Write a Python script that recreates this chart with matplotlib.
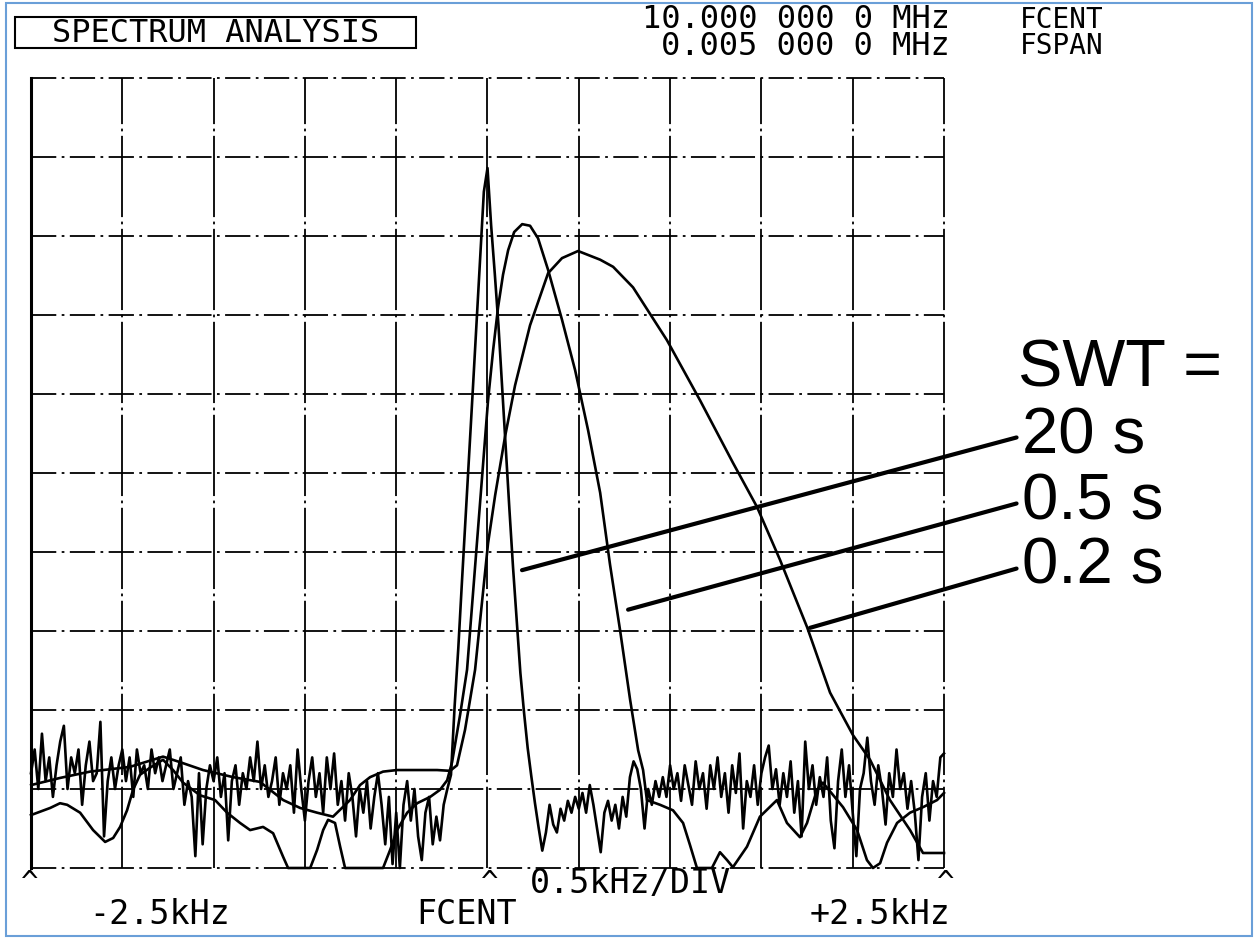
import numpy as np
import matplotlib
matplotlib.use("Agg")
import matplotlib.pyplot as plt
from matplotlib.patches import Rectangle

# ---------------- data (x in kHz offset from FCENT, y in dB rel. top line) ----------------
x_grid_kHz = np.arange(-2.5, 2.51, 0.5)
y_grid_dB = np.arange(-100, 1, 10)

# SWT = 20 s trace (narrow peak + noisy floor), sampled every 0.02 kHz
swt20_x = np.linspace(-2.5, 2.5, 251)
swt20_db = [
    -88, -85, -90, -83, -89, -86, -91, -87, -84, -82, -90, -86, -88, -85, -92, -87, -84, -89, -88, -81.5,
    -96, -89, -86, -90, -87, -85,
    -89, -86, -91, -85, -88, -87, -90, -85, -88, -86, -89, -87, -85, -90, -88, -86, -92, -89, -91, -98.5,
    -88, -97, -90, -87, -89, -86, -91, -88, -96.5, -89, -87, -92, -88, -90, -86, -89, -84,
    -90, -87, -91, -89, -86, -92, -88, -90, -87, -93, -85, -90, -94, -89, -86, -91, -88, -93, -86, -90,
    -85.5, -92, -89, -94, -88, -91, -96, -90, -93, -89, -95, -91, -88, -92, -97, -91, -99.5, -93, -100, -92,
    -89, -94, -90, -96, -99, -93, -91, -97, -93.5, -96.5, -92, -90,
    -88.2, -79.5, -72.2, -63.8, -55.7, -47.5, -39.3, -30.9, -22.7, -14.4, -11.4, -18.7, -24.8, -31.3,
    -39.1, -46.7, -54.6, -62.0, -68.7, -75.3, -80.3, -84.8, -88.4, -91.8, -94.9, -97.8,
    -95.5, -92, -94.5, -95.5, -92.5, -94, -91.5, -93, -91, -92.5,
    -90.5, -93, -89.5, -92, -95, -98, -93, -91.5, -94, -92,
    -95, -91, -93.5, -88.5, -86.5, -87.5, -90, -95, -90, -92,
    -89, -91, -88.5, -91, -87, -90, -88, -91.5, -87, -89.5,
    -92, -86.5, -90, -88, -92.5, -87, -90, -86, -91, -88,
    -93, -87, -90.5, -85.5, -95, -89, -91, -87, -92, -88,
    -86, -84.5, -90, -87.5, -92, -88, -91, -86.5, -93, -89,
    -96, -84, -90, -87, -92, -88.5, -91, -86, -94, -97.5,
    -89, -85, -91, -87, -93, -98.5, -90, -88, -83.5, -89,
    -92, -87, -90, -94.5, -88, -91, -85, -90, -88, -92.5,
    -89, -93, -99, -91, -88, -94, -89, -91, -86, -85.5,
]

# SWT = 0.5 s trace
swt05_x = [-2.50, -2.395, -2.341, -2.302, -2.231, -2.160, -2.094, -2.050, -2.012, -1.974, -1.941, -1.903,
           -1.848, -1.777, -1.722, -1.667, -1.574, -1.492, -1.426, -1.355, -1.300, -1.229, -1.174, -1.119,
           -1.092, -0.971, -0.933, -0.900, -0.873, -0.835, -0.807, -0.780, -0.572, -0.533, -0.495, -0.440,
           -0.385, -0.314, -0.260, -0.221, -0.194, -0.150, -0.112, -0.057, 0.003, 0.031, 0.058, 0.085,
           0.113, 0.146, 0.190, 0.233, 0.277, 0.332, 0.408, 0.480, 0.551, 0.617, 0.671, 0.726, 0.781,
           0.825, 0.852, 0.873, 0.945, 1.016, 1.071, 1.109, 1.147, 1.229, 1.273, 1.312, 1.344, 1.421,
           1.492, 1.585, 1.640, 1.711, 1.750, 1.804, 1.837, 1.947, 2.024, 2.078, 2.111, 2.150, 2.188,
           2.243, 2.314, 2.385, 2.462, 2.500]
swt05_db = [-93.3, -92.4, -91.8, -92.0, -93.0, -95.2, -96.7, -96.2, -94.8, -92.7, -90.1, -88.2,
            -87.3, -86.3, -87.6, -89.2, -90.8, -91.4, -93.0, -94.3, -95.2, -94.8, -95.6, -98.6,
            -100, -100, -97.7, -95.2, -93.9, -94.3, -97.3, -100, -100, -97.7, -95.2, -93.0,
            -91.8, -91.0, -90.1, -88.9, -86.6, -80.6, -74.9, -58.6, -40.8, -34.4, -29.0, -24.9,
            -21.8, -19.5, -18.5, -18.7, -20.3, -24.3, -30.6, -37.0, -44.6, -52.5, -61.6, -69.9, -78.7,
            -85.1, -87.6, -91.4, -92.0, -92.7, -94.3, -97.1, -100, -100, -98.0, -99.0, -99.9, -97.3,
            -93.5, -91.4, -94.3, -96.1, -94.3, -90.1, -89.2, -92.3, -95.2, -99.0, -100, -99.4, -96.8,
            -94.3, -93.0, -92.3, -91.4, -90.5]

# SWT = 0.2 s trace
swt02_x = [-2.499, -2.341, -2.177, -1.958, -1.777, -1.684, -1.558, -1.393, -1.246, -1.119, -1.026, -0.933,
           -0.846, -0.753, -0.698, -0.643, -0.572, -0.495, -0.276, -0.205, -0.167, -0.123, -0.068, 0.003,
           0.042, 0.096, 0.151, 0.233, 0.332, 0.408, 0.496, 0.617, 0.688, 0.797, 0.983, 1.164, 1.344,
           1.476, 1.602, 1.750, 1.876, 2.002, 2.095, 2.204, 2.314, 2.385, 2.500]
swt02_db = [-89.5, -88.6, -87.8, -87.2, -85.9, -86.6, -87.6, -88.5, -89.1, -91.4, -92.4, -93.0,
            -93.5, -91.4, -89.5, -88.5, -87.8, -87.6, -87.6, -87.7, -87.0, -82.5, -74.9, -58.9,
            -52.8, -45.4, -38.9, -31.3, -24.7, -22.8, -21.9, -23.0, -23.9, -26.5, -33.2, -40.8, -48.7,
            -54.3, -61.0, -69.5, -77.8, -83.2, -86.3, -91.4, -95.2, -98.1, -98.1]

# labels
swt_labels = ["20 s", "0.5 s", "0.2 s"]
swt_pointer_kHz = [0.189, 0.770, 1.766]
swt_pointer_dB = [-62.3, -67.3, -69.6]

# ---------------- figure ----------------
W, H = 1257, 939
fig = plt.figure(figsize=(W / 100, H / 100), dpi=100)
fig.patch.set_facecolor("white")
ax = fig.add_axes([31 / W, 1 - 868 / H, (944 - 31) / W, (868 - 78) / H])
ax.set_xlim(-2.5, 2.5)
ax.set_ylim(-100, 0)
ax.axis("off")

# grid (printer style dash-dot)
for i, xv in enumerate(x_grid_kHz):
    if i == 0:
        ax.axvline(xv, color="black", lw=2.2, clip_on=False)
    else:
        ax.axvline(xv, color="black", lw=1.3, ls=(0, (45, 2.5, 1.5, 2.5)), clip_on=False)
for yv in y_grid_dB:
    ax.axhline(yv, color="black", lw=1.3, ls=(0, (14, 3, 1.5, 3)), clip_on=False)

# traces
kw = dict(color="black", lw=1.9, solid_joinstyle="round", clip_on=False)
ax.plot(swt02_x, swt02_db, **kw)
ax.plot(swt05_x, swt05_db, **kw)
ax.plot(swt20_x, swt20_db, **kw)

# header texts
mono = "DejaVu Sans Mono"
fig.add_artist(Rectangle((15 / W, 1 - 48 / H), 401 / W, 31 / H, transform=fig.transFigure,
                         fill=False, ec="black", lw=1.5))
fig.text(216 / W, 1 - 33 / H, "SPECTRUM ANALYSIS", family=mono, fontsize=23,
         ha="center", va="center")
fig.text(950 / W, 1 - 33 / H, "10.000 000 0 MHz\n0.005 000 0 MHz", family=mono, fontsize=23,
         ha="right", va="center", multialignment="right", linespacing=0.8)
fig.text(1020 / W, 1 - 33 / H, "FCENT\nFSPAN", family=mono, fontsize=20,
         ha="left", va="center", linespacing=0.9)

# footer texts
for xp in (30, 490, 946):
    fig.text(xp / W, 1 - 869 / H, "^", family=mono, fontsize=21, ha="center", va="top")
fig.text(630 / W, 1 - 883 / H, "0.5kHz/DIV", family=mono, fontsize=24, ha="center", va="center")
fig.text(160 / W, 1 - 914 / H, "-2.5kHz", family=mono, fontsize=24, ha="center", va="center")
fig.text(467 / W, 1 - 914 / H, "FCENT", family=mono, fontsize=24, ha="center", va="center")
fig.text(880 / W, 1 - 914 / H, "+2.5kHz", family=mono, fontsize=24, ha="center", va="center")

# SWT labels with leader lines
sans = "Liberation Sans"
fig.text(1018 / W, 1 - 370 / H, "SWT =", family=sans, fontsize=48, ha="left", va="center")
label_y = [436, 502, 567]
for lab, px, py, ly in zip(swt_labels, swt_pointer_kHz, swt_pointer_dB, label_y):
    ax.annotate(lab, xy=(px, py), xycoords="data",
                xytext=(1022, H - ly), textcoords="figure pixels",
                family=sans, fontsize=47, ha="left", va="center",
                arrowprops=dict(arrowstyle="-", lw=3, color="black", shrinkA=2, shrinkB=0,
                                relpos=(0, 0.5)))

# light blue frame of the scanned figure
fig.add_artist(Rectangle((6 / W, 3 / H), 1246 / W, 933 / H, transform=fig.transFigure,
                         fill=False, ec="#6a9fd8", lw=1.5))

fig.savefig("out.png", dpi=100, facecolor="white")
